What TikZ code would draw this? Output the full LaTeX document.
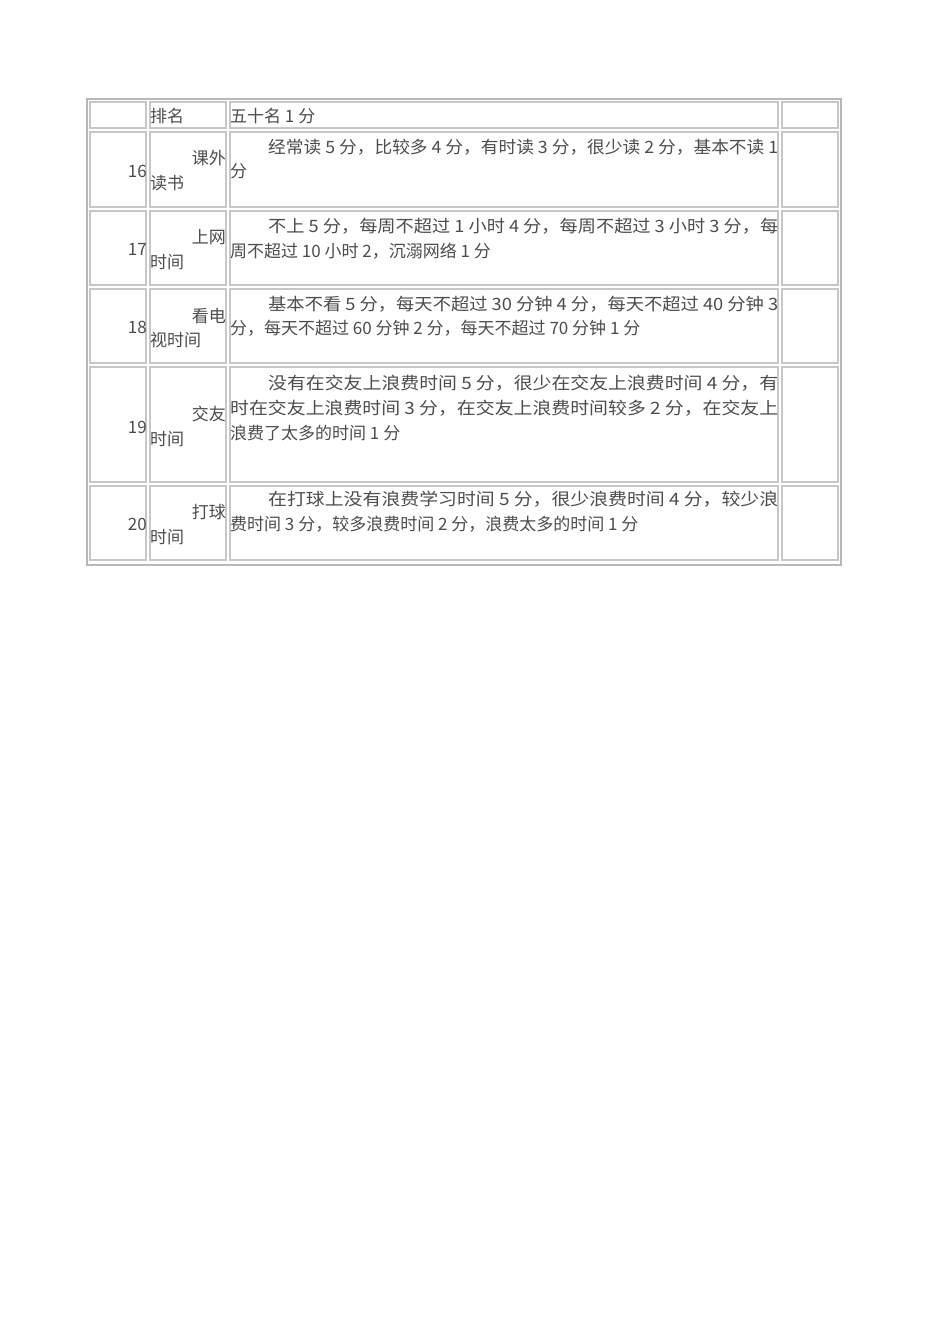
\documentclass[tikz,border=0pt]{standalone}
\usepackage{fontspec}
\usepackage{graphicx}
\setmainfont{Noto Sans CJK SC}
\newcommand{\fitln}[2]{\resizebox{#1pt}{\height}{#2}}
\begin{document}
\begin{tikzpicture}[x=1pt,y=-1pt,
  cell/.style={draw=black!28,line width=1.6pt},
  t/.style={inner sep=0pt,anchor=west,text=black!70,font=\fontsize{17}{20}\selectfont},
  tr/.style={t,anchor=east}]
\useasboundingbox (0,0) rectangle (950,1344);
\draw[cell] (87,99) rectangle (841,565);
\foreach \ya/\yb in {102/128,132/207,211/285,289/363,367/482,486/560}{
  \foreach \xa/\xb in {90/146,150/226,230/778,782/838}{
    \draw[cell,line width=1.2pt,draw=black!22] (\xa,\ya) rectangle (\xb,\yb);
  }}
\node[t] (h1) at (150,116) {排名};
\node[t] (h2) at (230,116) {五十名 1 分};
% row 16
\node[tr] (n16) at (147,171) {16};
\node[tr] (a16) at (226,158) {课外};
\node[t] (b16) at (150,183) {读书};
\node[t] (c16a) at (268,147) {\fitln{510}{经常读 5 分，比较多 4 分，有时读 3 分，很少读 2 分，基本不读 1}};
\node[t] (c16b) at (230,171) {分};
% row 17
\node[tr] (n17) at (147,249) {17};
\node[tr] (a17) at (226,237) {上网};
\node[t] (b17) at (150,262) {时间};
\node[t] (c17a) at (268,226) {\fitln{510}{不上 5 分，每周不超过 1 小时 4 分，每周不超过 3 小时 3 分，每}};
\node[t] (c17b) at (230,251) {周不超过 10 小时 2，沉溺网络 1 分};
% row 18
\node[tr] (n18) at (147,327) {18};
\node[tr] (a18) at (226,316) {看电};
\node[t] (b18) at (150,340) {视时间};
\node[t] (c18a) at (268,304) {\fitln{510}{基本不看 5 分，每天不超过 30 分钟 4 分，每天不超过 40 分钟 3}};
\node[t] (c18b) at (230,328) {分，每天不超过 60 分钟 2 分，每天不超过 70 分钟 1 分};
% row 19
\node[tr] (n19) at (147,427) {19};
\node[tr] (a19) at (226,414) {交友};
\node[t] (b19) at (150,439) {时间};
\node[t] (c19a) at (268,383) {\fitln{510}{没有在交友上浪费时间 5 分，很少在交友上浪费时间 4 分，有}};
\node[t] (c19b) at (230,408) {\fitln{548}{时在交友上浪费时间 3 分，在交友上浪费时间较多 2 分，在交友上}};
\node[t] (c19c) at (230,433) {浪费了太多的时间 1 分};
% row 20
\node[tr] (n20) at (147,524) {20};
\node[tr] (a20) at (226,512) {打球};
\node[t] (b20) at (150,537) {时间};
\node[t] (c20a) at (268,499) {\fitln{510}{在打球上没有浪费学习时间 5 分，很少浪费时间 4 分，较少浪}};
\node[t] (c20b) at (230,524) {费时间 3 分，较多浪费时间 2 分，浪费太多的时间 1 分};
\end{tikzpicture}
\end{document}
